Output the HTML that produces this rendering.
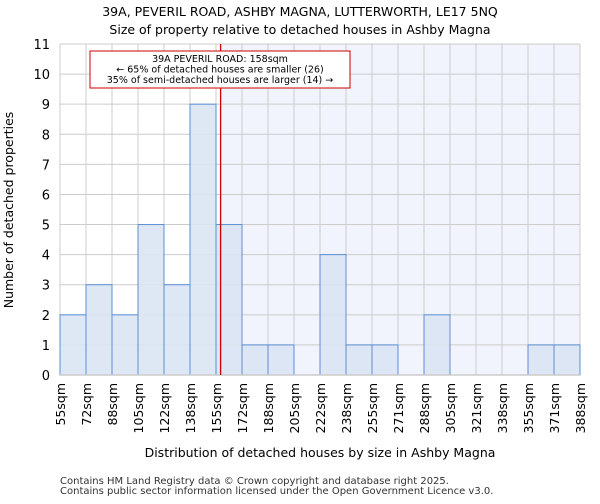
<!DOCTYPE html>
<html><head><meta charset="utf-8"><style>
body{margin:0;background:#fff;font-family:"DejaVu Sans",sans-serif}
svg text{font-family:"DejaVu Sans","Liberation Sans",sans-serif}
</style></head><body>
<svg id="chart" width="600" height="500" xmlns="http://www.w3.org/2000/svg" style="font-family:'DejaVu Sans',sans-serif">
<text x="300" y="16" text-anchor="middle" font-size="12.5">39A, PEVERIL ROAD, ASHBY MAGNA, LUTTERWORTH, LE17 5NQ</text>
<text x="300" y="34" text-anchor="middle" font-size="12.5">Size of property relative to detached houses in Ashby Magna</text>
<g id="plot"></g>
<text x="320" y="457" text-anchor="middle" font-size="12.5">Distribution of detached houses by size in Ashby Magna</text>
<text transform="translate(13,210) rotate(-90)" text-anchor="middle" font-size="12.5">Number of detached properties</text>
<text x="60" y="484" font-size="10" fill="#333">Contains HM Land Registry data © Crown copyright and database right 2025.</text>
<text x="60" y="494" font-size="10" fill="#333">Contains public sector information licensed under the Open Government Licence v3.0.</text>
</svg>
<script>
const binLabels=["55sqm","72sqm","88sqm","105sqm","122sqm","138sqm","155sqm","172sqm","188sqm","205sqm","222sqm","238sqm","255sqm","271sqm","288sqm","305sqm","321sqm","338sqm","355sqm","371sqm","388sqm"];
const binEdges=[55,72,88,105,122,138,155,172,188,205,222,238,255,271,288,305,321,338,355,371,388];
const counts=[2,3,2,5,3,9,5,1,1,0,4,1,1,0,2,0,0,0,1,1];
const yTicks=[0,1,2,3,4,5,6,7,8,9,10,11];
const propertySize=158;
const L=60,R=580,T=44,B=375,yMax=11;
const NS="http://www.w3.org/2000/svg";
const g=document.getElementById('plot');
function xIdx(i){return L+(R-L)*i/counts.length;}
function xVal(v){let i=0;while(i<binEdges.length-2&&v>binEdges[i+1])i++;return xIdx(i+(v-binEdges[i])/(binEdges[i+1]-binEdges[i]));}
function y(v){return B-(B-T)*v/yMax;}
function el(t,a){const e=document.createElementNS(NS,t);for(const k in a)e.setAttribute(k,a[k]);g.appendChild(e);return e;}
const px=xVal(propertySize);
let s=el('rect',{x:px,y:T,width:R-px,height:B-T,fill:'#f1f4fc'});


yTicks.forEach(t=>{const l=el('line',{x1:L,x2:R,y1:y(t),y2:y(t),stroke:'#ccc','stroke-width':1});


const tx=el('text',{x:L-10,y:y(t)+5,'text-anchor':'end','font-size':13});tx.textContent=t;

});
binLabels.forEach((lb,i)=>{const x=xIdx(i);const l=el('line',{x1:x,x2:x,y1:T,y2:B,stroke:'#ccc','stroke-width':1});


const tx=el('text',{transform:`translate(${x+5},${B+8}) rotate(-90)`,'text-anchor':'end','font-size':12.5});tx.textContent=lb;

});
counts.forEach((c,i)=>{if(c<=0)return;const r=el('rect',{x:xIdx(i),y:y(c),width:xIdx(i+1)-xIdx(i),height:B-y(c),fill:'#dae4f3','fill-opacity':0.9,stroke:'#5b8fd6','stroke-width':1});

});
const ax=el('line',{x1:L,x2:R,y1:B,y2:B,stroke:'#ccc','stroke-width':1.5});


const rl=el('line',{x1:px,x2:px,y1:T,y2:B,stroke:'#c00','stroke-width':1.3});


const box=el('rect',{x:90,y:51,width:260,height:37,fill:'#fff',stroke:'#c00','stroke-width':1});


["39A PEVERIL ROAD: 158sqm","← 65% of detached houses are smaller (26)","35% of semi-detached houses are larger (14) →"].forEach((t,i)=>{const tx=el('text',{x:220,y:62+i*10.5,'text-anchor':'middle','font-size':9.5});tx.textContent=t;

});
</script>
</body></html>
